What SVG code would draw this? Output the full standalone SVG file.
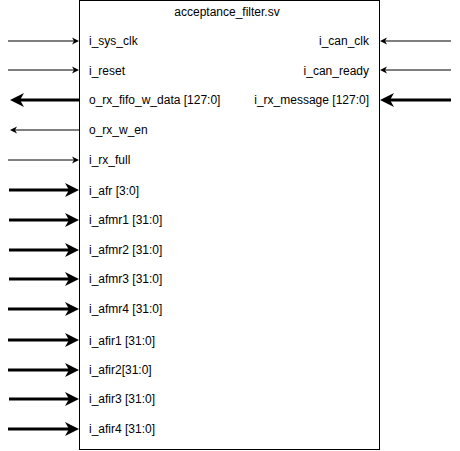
<svg xmlns="http://www.w3.org/2000/svg" width="460" height="451" viewBox="0 0 460 451">
<style>
.lbl{font-family:"Liberation Sans",Arial,sans-serif;font-size:12px;fill:#000}
.r{text-anchor:end}
.thin{stroke:#000;stroke-width:1;fill:none}
.thick{stroke:#000;stroke-width:3;fill:none}
</style>
<defs>
<marker id="ht" markerUnits="userSpaceOnUse" markerWidth="10" markerHeight="10" viewBox="-3 -5 10 10" refX="0" refY="0" orient="auto">
<path d="M5,0 L-2,-3.5 L0,0 L-2,3.5 Z" fill="#000"/>
</marker>
<marker id="hk" markerUnits="userSpaceOnUse" markerWidth="18" markerHeight="18" viewBox="-5 -9 18 18" refX="0" refY="0" orient="auto">
<path d="M10,0 L-4,-7 L0,0 L-4,7 Z" fill="#000"/>
</marker>
</defs>
<g id="acceptance_filter">
<rect x="79.5" y="0.5" width="300" height="449" fill="#fff" stroke="#000" stroke-width="1"/>
<text class="lbl" x="227" y="16" text-anchor="middle">acceptance_filter.sv</text>
<text class="lbl" x="89" y="45">i_sys_clk</text>
<text class="lbl" x="89" y="75">i_reset</text>
<text class="lbl" x="89" y="104">o_rx_fifo_w_data [127:0]</text>
<text class="lbl" x="89" y="134">o_rx_w_en</text>
<text class="lbl" x="89" y="164">i_rx_full</text>
<text class="lbl" x="89" y="195">i_afr [3:0]</text>
<text class="lbl" x="89" y="224">i_afmr1 [31:0]</text>
<text class="lbl" x="89" y="254">i_afmr2 [31:0]</text>
<text class="lbl" x="89" y="283">i_afmr3 [31:0]</text>
<text class="lbl" x="89" y="313">i_afmr4 [31:0]</text>
<text class="lbl" x="89" y="345">i_afir1 [31:0]</text>
<text class="lbl" x="89" y="374">i_afir2[31:0]</text>
<text class="lbl" x="89" y="403">i_afir3 [31:0]</text>
<text class="lbl" x="89" y="433">i_afir4 [31:0]</text>
<text class="lbl r" x="369" y="45">i_can_clk</text>
<text class="lbl r" x="369" y="75">i_can_ready</text>
<text class="lbl r" x="369" y="104">i_rx_message [127:0]</text>
</g>
<g id="connectors">
<path class="thin" d="M8,41 H74" marker-end="url(#ht)"/>
<path class="thin" d="M8,70 H74" marker-end="url(#ht)"/>
<path class="thick" d="M79,100 H20" marker-end="url(#hk)"/>
<path class="thin" d="M80,130 H15" marker-end="url(#ht)"/>
<path class="thin" d="M8,160 H74" marker-end="url(#ht)"/>
<path class="thick" d="M9,190 H69" marker-end="url(#hk)"/>
<path class="thick" d="M9,220 H69" marker-end="url(#hk)"/>
<path class="thick" d="M9,250 H69" marker-end="url(#hk)"/>
<path class="thick" d="M9,279 H69" marker-end="url(#hk)"/>
<path class="thick" d="M8,309 H69" marker-end="url(#hk)"/>
<path class="thick" d="M8,340 H69" marker-end="url(#hk)"/>
<path class="thick" d="M8,370 H69" marker-end="url(#hk)"/>
<path class="thick" d="M9,399 H69" marker-end="url(#hk)"/>
<path class="thick" d="M8,429 H69" marker-end="url(#hk)"/>
<path class="thin" d="M451,41 H385" marker-end="url(#ht)"/>
<path class="thin" d="M451,70 H385" marker-end="url(#ht)"/>
<path class="thick" d="M451,100 H390" marker-end="url(#hk)"/>
</g>
</svg>
